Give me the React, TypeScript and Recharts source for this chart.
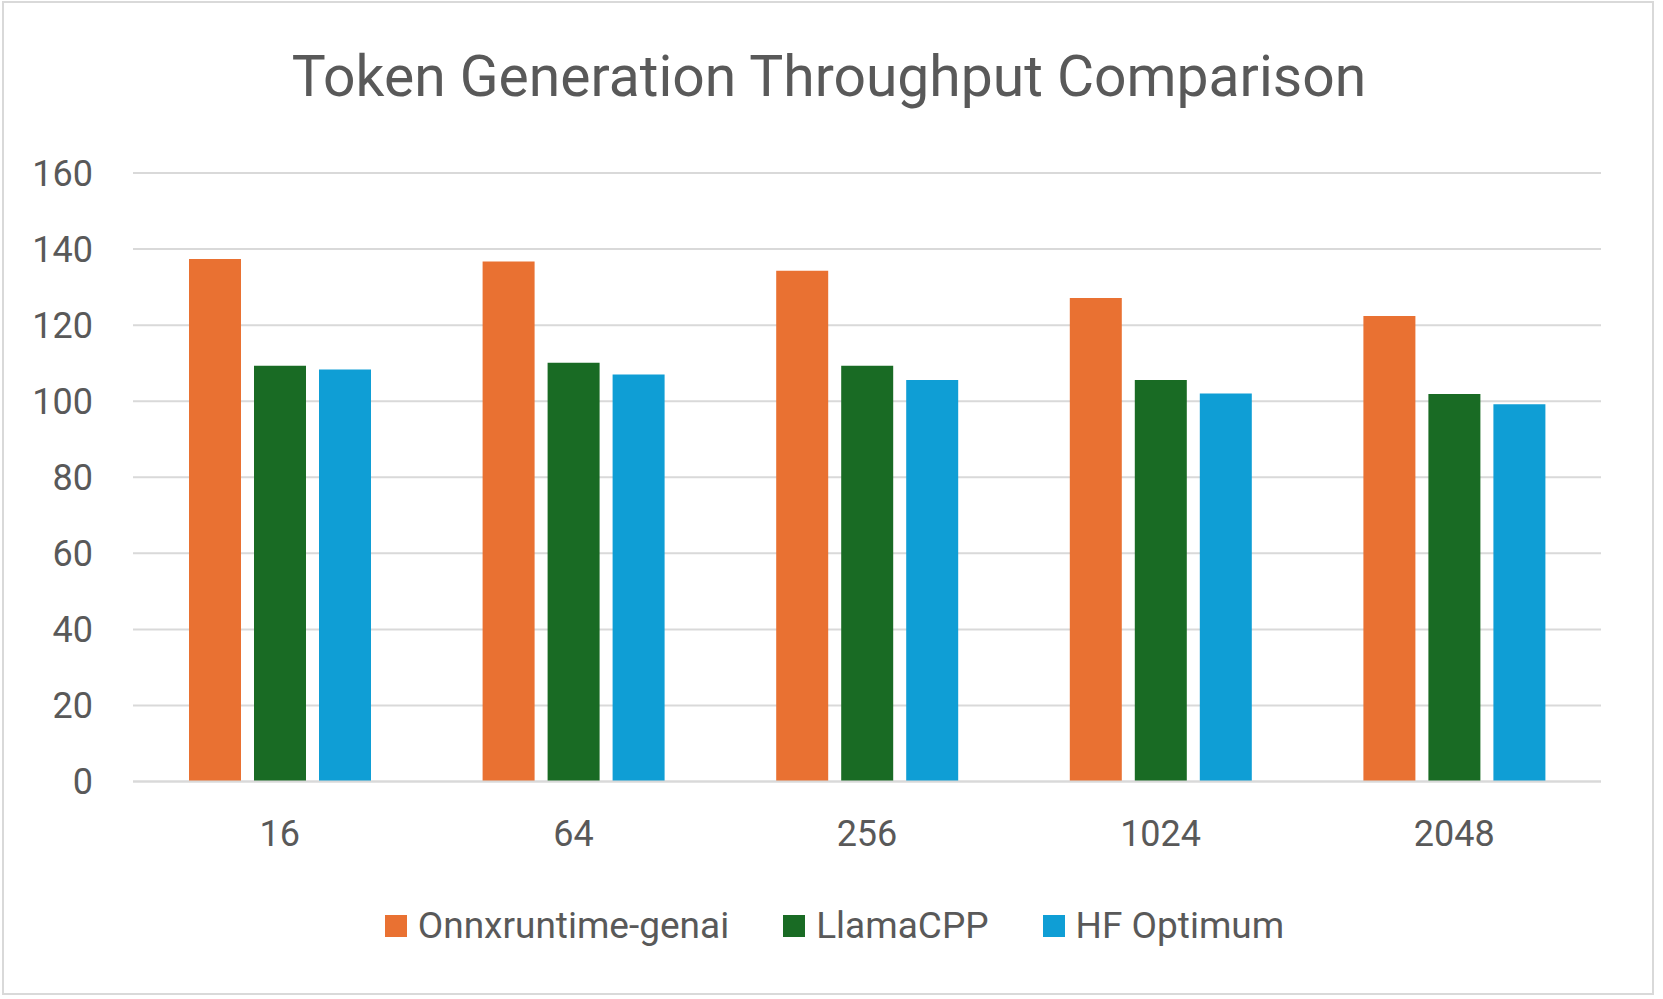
import React from "react";
import { BarChart, Bar, XAxis, YAxis, CartesianGrid, Legend } from "recharts";

const categories = ["16", "64", "256", "1024", "2048"];
const onnxValues = [137.4, 136.7, 134.3, 127.1, 122.4];
const llamaValues = [109.3, 110.1, 109.3, 105.6, 101.9];
const hfValues = [108.3, 107.0, 105.6, 102.0, 99.2];
const yTicks = [0, 20, 40, 60, 80, 100, 120, 140, 160];

const seriesNames = ["Onnxruntime-genai", "LlamaCPP", "HF Optimum"];
const seriesKeys = ["onnx", "llama", "hf"];
const seriesColors = ["#E97132", "#196B24", "#0F9ED5"];

const data = categories.map((c, i) => ({
  name: c,
  onnx: onnxValues[i],
  llama: llamaValues[i],
  hf: hfValues[i],
}));

const FONT = "Roboto, 'Liberation Sans', sans-serif";
const TEXT = "#595959";

const LegendContent = () => (
  <div
    style={{
      position: "absolute",
      left: 3,
      top: 0,
      width: 1663,
      height: 44,
      display: "flex",
      justifyContent: "center",
      alignItems: "center",
      fontFamily: FONT,
      fontSize: 37,
      color: TEXT,
    }}
  >
    {seriesNames.map((n, i) => (
      <div
        key={n}
        style={{
          display: "flex",
          alignItems: "center",
          marginRight: i < seriesNames.length - 1 ? 54 : 0,
        }}
      >
        <div
          style={{
            width: 22,
            height: 22,
            background: seriesColors[i],
            marginRight: 11,
          }}
        />
        <span style={{ lineHeight: "44px", whiteSpace: "nowrap" }}>{n}</span>
      </div>
    ))}
  </div>
);

export default function App() {
  return (
    <div
      style={{
        position: "absolute",
        left: 0,
        top: 0,
        width: 1663,
        height: 999,
        background: "#ffffff",
        overflow: "hidden",
      }}
    >
      <div
        style={{
          position: "absolute",
          left: 2,
          top: 1,
          width: 1652,
          height: 994,
          border: "2px solid #D9D9D9",
          boxSizing: "border-box",
        }}
      />
      <div
        style={{
          position: "absolute",
          left: 0,
          top: 47,
          width: 1658,
          textAlign: "center",
          fontFamily: FONT,
          fontSize: 57,
          lineHeight: "59px",
          color: TEXT,
          whiteSpace: "nowrap",
        }}
      >
        Token Generation Throughput Comparison
      </div>
      <div style={{ position: "absolute", left: 0, top: 0 }}>
        <BarChart
          width={1663}
          height={999}
          data={data}
          margin={{ top: 173, right: 62, bottom: 187.5, left: 0 }}
          barSize={52}
          barGap={13}
        >
          <CartesianGrid
            vertical={false}
            stroke="#D9D9D9"
            strokeWidth={2}
          />
          <XAxis
            dataKey="name"
            height={30}
            axisLine={{ stroke: "#D9D9D9", strokeWidth: 2 }}
            tickLine={false}
            tickMargin={33}
            tick={{ fill: TEXT, fontSize: 36, fontFamily: FONT }}
            interval={0}
          />
          <YAxis
            width={133}
            domain={[0, 160]}
            ticks={yTicks}
            axisLine={false}
            tickLine={false}
            tickMargin={34}
            tick={{ fill: TEXT, fontSize: 36, fontFamily: FONT }}
            interval={0}
          />
          <Legend
            verticalAlign="bottom"
            wrapperStyle={{ position: "absolute", left: 0, top: 904, width: 1663, height: 0 }}
            content={() => <LegendContent />}
          />
          {seriesKeys.map((k, i) => (
            <Bar
              key={k}
              dataKey={k}
              name={seriesNames[i]}
              fill={seriesColors[i]}
              isAnimationActive={false}
            />
          ))}
        </BarChart>
      </div>
    </div>
  );
}
